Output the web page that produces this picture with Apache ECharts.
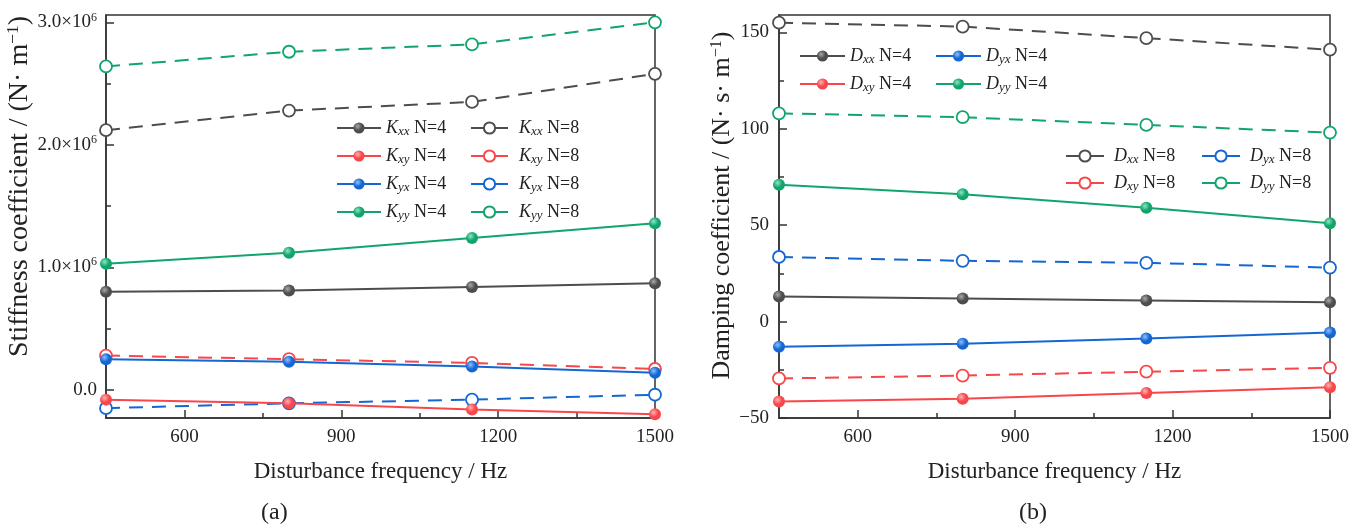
<!DOCTYPE html>
<html>
<head>
<meta charset="utf-8">
<script src="https://cdn.jsdelivr.net/npm/echarts@6/dist/echarts.min.js"></script>
<style>
  html, body { margin: 0; padding: 0; background: #fff; }
  #chart { width: 1367px; height: 529px; }
</style>
</head>
<body>
<div id="chart"></div>
<script>
// disturbance frequency (Hz)
const freq = [450, 800, 1150, 1500]

// stiffness coefficients (N/m)
const kxx4 = [0.80e6, 0.81e6, 0.84e6, 0.87e6]
const kxy4 = [-0.08e6, -0.11e6, -0.16e6, -0.20e6]
const kyx4 = [0.25e6, 0.23e6, 0.19e6, 0.14e6]
const kyy4 = [1.03e6, 1.12e6, 1.24e6, 1.36e6]
const kxx8 = [2.12e6, 2.28e6, 2.35e6, 2.58e6]
const kxy8 = [0.28e6, 0.25e6, 0.22e6, 0.17e6]
const kyx8 = [-0.15e6, -0.11e6, -0.08e6, -0.04e6]
const kyy8 = [2.64e6, 2.76e6, 2.82e6, 3.00e6]

// damping coefficients (N·s/m)
const dxx4 = [13, 12, 11, 10]
const dxy4 = [-41.5, -40, -37, -34]
const dyx4 = [-13, -11.5, -8.8, -5.7]
const dyy4 = [71, 66, 59, 51]
const dxx8 = [155, 153, 147, 141]
const dxy8 = [-29.5, -28, -26, -24]
const dyx8 = [33.5, 31.5, 30.5, 28]
const dyy8 = [108, 106, 102, 98]

// ticks
const xLabels = [600, 900, 1200, 1500]
const xMinor = [750, 1050, 1350]
const kLabels = [0, 1e6, 2e6, 3e6]
const kMinor = [0.5e6, 1.5e6, 2.5e6]
const dLabels = [-50, 0, 50, 100, 150]
const dMinor = [-25, 25, 75, 125]

const FONT = 'Liberation Serif'
const colors = {
  gray: ['#4d4d4d', '#a8a8a8'],
  red: ['#f7474a', '#ffb3b3'],
  blue: ['#1467d2', '#8ec0ff'],
  green: ['#11a56c', '#8fe6c2']
}

function pts (ys) {
  return freq.map((f, i) => [f, ys[i]])
}

function line (name, ys, c, filled, xi, yi) {
  let col = colors[c]
  return {
    name: name,
    type: 'line',
    xAxisIndex: xi,
    yAxisIndex: yi,
    data: pts(ys),
    symbol: 'circle',
    symbolSize: 12,
    lineStyle: {color: col[0], width: 2, type: filled ? 'solid' : [14, 9]},
    itemStyle: filled ? {
      color: {type: 'radial', x: 0.38, y: 0.35, r: 0.7,
        colorStops: [{offset: 0, color: col[1]}, {offset: 0.55, color: col[0]}, {offset: 1, color: col[0]}]},
      borderWidth: 0
    } : {color: '#fff', borderColor: col[0], borderWidth: 1.8},
    emphasis: {disabled: true},
    z: filled ? 3 : 2
  }
}

const rich = {
  i: {fontFamily: FONT, fontStyle: 'italic', fontSize: 18, lineHeight: 20, color: '#222'},
  s: {fontFamily: FONT, fontStyle: 'italic', fontSize: 13, lineHeight: 13, padding: [7, 0, 0, 0], verticalAlign: 'bottom', color: '#222'},
  n: {fontFamily: FONT, fontSize: 18, lineHeight: 20, color: '#222'}
}

function legend (names, left, top, w, pad, gap) {
  return {
    data: names,
    orient: 'vertical',
    left: left,
    top: top,
    padding: 0,
    itemWidth: w,
    itemHeight: 14,
    itemGap: gap,
    selectedMode: false,
    lineStyle: {type: 'solid'},
    formatter: function (n) {
      return '{i|' + n[0] + '}{s|' + n.substr(1, 2) + '}{n|' + n.substr(3) + '}'
    },
    textStyle: {rich: rich, padding: [0, 0, 0, pad]}
  }
}

const tickStyle = {fontFamily: FONT, fontSize: 19, color: '#222'}
const axisLine = {show: true, onZero: false, lineStyle: {color: '#333', width: 1.5}}

function nameRich (size) {
  return {
    n: {fontFamily: FONT, fontSize: size, lineHeight: size + 2, color: '#222'},
    p: {fontFamily: FONT, fontSize: size * 0.62, lineHeight: size * 0.62, verticalAlign: 'top', color: '#222'}
  }
}

function xMain (gi, name) {
  return {
    type: 'value', gridIndex: gi, min: 450, max: 1500, position: 'bottom',
    name: name, nameLocation: 'middle', nameGap: 42,
    nameTextStyle: {fontFamily: FONT, fontSize: 23, color: '#222'},
    axisLine: axisLine,
    axisTick: {inside: true, length: 8, customValues: xLabels, lineStyle: {color: '#333', width: 1.5}},
    axisLabel: {customValues: xLabels, margin: 10, formatter: v => String(v), ...tickStyle},
    splitLine: {show: false}
  }
}

function xMinorAxis (gi) {
  return {
    type: 'value', gridIndex: gi, min: 450, max: 1500, position: 'bottom',
    axisLine: {show: false, onZero: false},
    axisTick: {show: true, inside: true, length: 5, customValues: xMinor, lineStyle: {color: '#333', width: 1.5}},
    axisLabel: {show: false},
    splitLine: {show: false}
  }
}

function yMinorAxis (gi, min, max, vals) {
  return {
    type: 'value', gridIndex: gi, min: min, max: max, position: 'left',
    axisLine: {show: false, onZero: false},
    axisTick: {show: true, inside: true, length: 5, customValues: vals, lineStyle: {color: '#333', width: 1.5}},
    axisLabel: {show: false},
    splitLine: {show: false}
  }
}

let myChart = echarts.init(document.getElementById('chart'))

let option = {
  animation: false,
  backgroundColor: '#fff',
  grid: [
    {left: 106, top: 15, width: 549, height: 403, outerBoundsMode: 'none', show: true, borderColor: '#333', borderWidth: 1.5},
    {left: 779, top: 15, width: 551, height: 403, outerBoundsMode: 'none', show: true, borderColor: '#333', borderWidth: 1.5}
  ],
  xAxis: [
    xMain(0, 'Disturbance frequency / Hz'),
    xMain(1, 'Disturbance frequency / Hz'),
    xMinorAxis(0),
    xMinorAxis(1)
  ],
  yAxis: [
    {
      type: 'value', gridIndex: 0, min: -0.23e6, max: 3.06e6, position: 'left',
      name: '{n|Stiffness coefficient / (N· m}{p|−1}{n|)}',
      nameLocation: 'middle', nameGap: 64,
      nameTextStyle: {rich: nameRich(28), padding: [0, 0, 0, 60]},
      axisLine: axisLine,
      axisTick: {show: true, inside: true, length: 8, customValues: kLabels, lineStyle: {color: '#333', width: 1.5}},
      axisLabel: {
        customValues: kLabels, margin: 9,
        formatter: function (v) {
          if (v === 0) return '{m|0.0}'
          return '{m|' + (v / 1e6).toFixed(1) + '×10}{p|6}'
        },
        rich: {
          m: {fontFamily: FONT, fontSize: 19, lineHeight: 22, color: '#222'},
          p: {fontFamily: FONT, fontSize: 12, lineHeight: 12, verticalAlign: 'top', color: '#222'}
        }
      },
      splitLine: {show: false}
    },
    {
      type: 'value', gridIndex: 1, min: -50, max: 159, position: 'left',
      name: '{n|Damping coefficient / (N· s· m}{p|−1}{n|)}',
      nameLocation: 'middle', nameGap: 41,
      nameTextStyle: {rich: nameRich(26), padding: [0, 0, 0, 22]},
      axisLine: axisLine,
      axisTick: {show: true, inside: true, length: 8, customValues: dLabels, lineStyle: {color: '#333', width: 1.5}},
      axisLabel: {
        customValues: dLabels, margin: 10, ...tickStyle,
        formatter: function (v) {
          return v < 0 ? '−' + Math.abs(v) : String(v)
        }
      },
      splitLine: {show: false}
    },
    yMinorAxis(0, -0.23e6, 3.06e6, kMinor),
    yMinorAxis(1, -50, 159, dMinor)
  ],
  legend: [
    legend(['Kxx N=4', 'Kxy N=4', 'Kyx N=4', 'Kyy N=4'], 336, 118, 44, 0, 8),
    legend(['Kxx N=8', 'Kxy N=8', 'Kyx N=8', 'Kyy N=8'], 470, 118, 37, 6, 8),
    legend(['Dxx N=4', 'Dxy N=4'], 799, 46, 45, 0, 8),
    legend(['Dyx N=4', 'Dyy N=4'], 935, 46, 45, 0, 8),
    legend(['Dxx N=8', 'Dxy N=8'], 1065, 146, 38, 5, 7),
    legend(['Dyx N=8', 'Dyy N=8'], 1201, 146, 38, 5, 7)
  ],
  series: [
    line('Kxx N=4', kxx4, 'gray', true, 0, 0),
    line('Kxy N=4', kxy4, 'red', true, 0, 0),
    line('Kyx N=4', kyx4, 'blue', true, 0, 0),
    line('Kyy N=4', kyy4, 'green', true, 0, 0),
    line('Kxx N=8', kxx8, 'gray', false, 0, 0),
    line('Kxy N=8', kxy8, 'red', false, 0, 0),
    line('Kyx N=8', kyx8, 'blue', false, 0, 0),
    line('Kyy N=8', kyy8, 'green', false, 0, 0),
    line('Dxx N=4', dxx4, 'gray', true, 1, 1),
    line('Dxy N=4', dxy4, 'red', true, 1, 1),
    line('Dyx N=4', dyx4, 'blue', true, 1, 1),
    line('Dyy N=4', dyy4, 'green', true, 1, 1),
    line('Dxx N=8', dxx8, 'gray', false, 1, 1),
    line('Dxy N=8', dxy8, 'red', false, 1, 1),
    line('Dyx N=8', dyx8, 'blue', false, 1, 1),
    line('Dyy N=8', dyy8, 'green', false, 1, 1)
  ],
  graphic: [
    {type: 'text', left: 261, top: 501, style: {text: '(a)', fontFamily: FONT, fontSize: 24, fill: '#222'}},
    {type: 'text', left: 1019, top: 501, style: {text: '(b)', fontFamily: FONT, fontSize: 24, fill: '#222'}}
  ]
}
myChart.setOption(option)
</script>
</body>
</html>
